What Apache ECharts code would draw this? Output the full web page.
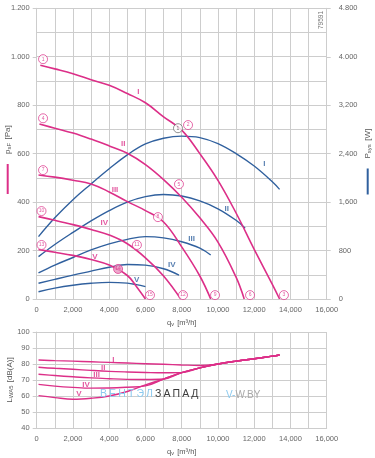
<!DOCTYPE html>
<html><head><meta charset="utf-8">
<script src="https://cdn.jsdelivr.net/npm/echarts@6/dist/echarts.min.js"></script>
<style>html,body{margin:0;padding:0;background:#fff}#c{width:375px;height:458px}</style>
</head><body><div id="c"></div>
<script>
// ---------- tick labels ----------
const xTickLabels = ['0','2,000','4,000','6,000','8,000','10,000','12,000','14,000','16,000'];
const pressTickLabels = ['0','200','400','600','800','1.000','1.200'];
const powerTickLabels = ['0','800','1,600','2,400','3,200','4.000','4.800'];
const noiseTickLabels = ['40','50','60','70','80','90','100'];
const curveNames = ['I','II','III','IV','V'];

// ---------- pressure curves p_sF [Pa] ----------
const flowPI   = [200,1000,2000,3000,4000,5000,6000,7000,8000,9000,10000,11000,12000,13000,13400];
const pressI   = [965,950,930,905,882,848,810,752,697,600,490,355,205,60,0];
const flowPII  = [150,1000,2000,3000,4000,5000,6000,7000,8000,9000,10000,11000,11450];
const pressII  = [722,705,685,660,632,602,555,493,420,335,235,90,0];
const flowPIII = [100,1000,2000,3000,4000,5000,6000,7000,8000,9000,9600];
const pressIII = [512,503,490,475,442,402,365,318,215,95,0];
const flowPIV  = [100,1000,2000,3000,4000,5000,6000,7000,7950];
const pressIV  = [340,325,307,287,264,228,170,95,0];
const flowPV   = [100,1000,2000,3000,4000,5000,5500,6000];
const pressV   = [204,193,180,163,140,97,52,0];

// ---------- power curves P_sys [W] ----------
const flowWI   = [100,1000,2000,3000,4000,5000,6000,7000,8000,9000,10000,11000,12000,13000,13400];
const powerI   = [1030,1340,1640,1900,2150,2380,2560,2655,2690,2665,2565,2400,2195,1935,1810];
const flowWII  = [100,1000,2000,3000,4000,5000,6000,7000,8000,9000,10000,11000,11500];
const powerII  = [700,900,1100,1290,1460,1600,1690,1725,1700,1620,1490,1300,1170];
const flowWIII = [100,1000,2000,3000,4000,5000,6000,7000,8000,9000,9600];
const powerIII = [430,560,685,810,910,985,1030,1010,945,840,726];
const flowWIV  = [100,1000,2000,3000,4000,5000,6000,7000,7850];
const powerIV  = [260,325,395,460,525,570,560,500,396];
const flowWV   = [100,1000,2000,3000,4000,5000,5500,6000];
const powerV   = [120,180,228,260,275,262,238,205];

// ---------- noise curves L_WA5 [dB(A)] ----------
const flowN  = [100,1000,2000,3000,4000,5000,6000,7000,8000,9000,10000,11000,12000,13000,13400];
const noiseI   = [82.5,82.1,81.8,81.4,81.0,80.6,80.2,79.8,79.4,79.1,80.0,81.8,83.3,84.9,85.6];
const noiseII  = [78.0,77.3,76.7,76.0,75.4,75.0,74.7,74.5,74.6,77.6,80.0,81.8,83.3,84.9,85.6];
const noiseIII = [73.6,72.8,72.0,71.3,70.8,70.4,70.3,70.6,74.6,77.6,80.0,81.8,83.3,84.9,85.6];
const noiseIV  = [67.3,66.2,65.4,64.9,65.0,65.5,66.3,70.6,74.6,77.6,80.0,81.8,83.3,84.9,85.6];
const noiseV   = [60.2,59.0,58.0,58.6,60.0,62.8,67.0,70.6,74.6,77.6,80.0,81.8,83.3,84.9,85.6];

// ---------- annotations ----------
const markerFlow  = [350,350,350,265,265,8350,7850,6690,5530,4490,13640,11770,9840,8070,6250];
const markerPress = [990,746,532,363,223,718,474,338,223,124,16,16,16,16,16];
const markerText  = ['1','4','7','10','13','2','5','8','11','14','3','6','9','12','15'];
const greyMarkerFlow = [7795], greyMarkerPress = [705], greyMarkerText = ['1'];
const pLabelFlow  = [5606,4778,4320,3730,3217];
const pLabelPress = [855,642,452,315,175];
const wLabelFlow  = [12557,10483,8552,7448,5517];
const wLabelPower = [2239,1496,1001,561,313];
const nLabelFlow  = [4226,3675,3310,2720,2333];
const nLabelNoise = [82.9,77.9,73.1,67.3,61.1];

// ---------- styling ----------
const PINK = '#dc2f88', BLUE = '#30609e', GRID = '#cdcdcd', TXT = '#666';
const FONT = 'Liberation Sans, Arial, sans-serif';
const zip = (xs, ys) => xs.map((x, i) => [x, ys[i]]);

const labelStyle = { fontSize: 7.5, color: TXT, fontFamily: FONT };
function xAxis(grid, nameGap) {
  return {
    gridIndex: grid, type: 'value', min: 0, max: 16000, interval: 2000,
    axisLine: { show: true, lineStyle: { color: GRID } },
    axisTick: { show: false },
    splitLine: { show: true, lineStyle: { color: GRID, width: 1 } },
    minorTick: { show: false, splitNumber: 2 },
    minorSplitLine: { show: true, lineStyle: { color: GRID, width: 1 } },
    axisLabel: Object.assign({ margin: 7, formatter: v => xTickLabels[Math.round(v / 2000)] }, labelStyle),
    name: '{t|q}{s|v} {t|[m³/h]}', nameLocation: 'middle', nameGap: nameGap, nameMoveOverlap: false,
    nameTextStyle: { rich: {
      t: { fontSize: 7.5, color: '#555', fontFamily: FONT, lineHeight: 10 },
      s: { fontSize: 5.5, color: '#555', fontFamily: FONT, lineHeight: 10, padding: [3, 0, 0, 0] } } }
  };
}
const nameRich = {
  t: { fontSize: 8, color: '#555', fontFamily: FONT, lineHeight: 10 },
  s: { fontSize: 6, color: '#555', fontFamily: FONT, lineHeight: 10, padding: [3, 0, 0, 0] },
  lp: { width: 30, height: 2, backgroundColor: PINK },
  lb: { width: 26, height: 2, backgroundColor: BLUE }
};

const series = [];
const pFlows = [flowPI, flowPII, flowPIII, flowPIV, flowPV];
const pVals  = [pressI, pressII, pressIII, pressIV, pressV];
const wFlows = [flowWI, flowWII, flowWIII, flowWIV, flowWV];
const wVals  = [powerI, powerII, powerIII, powerIV, powerV];
const nVals  = [noiseI, noiseII, noiseIII, noiseIV, noiseV];
for (let i = 0; i < 5; i++) {
  series.push({ type: 'line', xAxisIndex: 0, yAxisIndex: 1, data: zip(wFlows[i], wVals[i]), smooth: 0.4, showSymbol: false,
    lineStyle: { color: BLUE, width: 1.4 }, z: 2, silent: true });
}
for (let i = 0; i < 5; i++) {
  series.push({ type: 'line', xAxisIndex: 0, yAxisIndex: 0, data: zip(pFlows[i], pVals[i]), smooth: 0.4, showSymbol: false,
    lineStyle: { color: PINK, width: 1.6 }, z: 3, silent: true });
}
for (let i = 0; i < 5; i++) {
  series.push({ type: 'line', xAxisIndex: 1, yAxisIndex: 2, data: zip(flowN, nVals[i]), smooth: 0.4, showSymbol: false,
    lineStyle: { color: PINK, width: 1.4 }, z: 3, silent: true });
}
// roman labels
function romanSeries(xi, yi, xs, ys, color) {
  return { type: 'scatter', xAxisIndex: xi, yAxisIndex: yi, symbolSize: 0, z: 6, silent: true,
    data: xs.map((x, i) => [x, ys[i], curveNames[i]]),
    label: { show: true, position: 'inside', formatter: p => p.data[2], fontSize: 8, fontWeight: 'bold', color: color, fontFamily: FONT } };
}
series.push(romanSeries(0, 0, pLabelFlow, pLabelPress, PINK));
series.push(romanSeries(0, 1, wLabelFlow, wLabelPower, BLUE));
series.push(romanSeries(1, 2, nLabelFlow, nLabelNoise, PINK));
// circled point markers
series.push({ type: 'scatter', xAxisIndex: 0, yAxisIndex: 0, symbol: 'circle', symbolSize: 9, z: 7, silent: true,
  data: markerFlow.map((x, i) => ({ value: [x, markerPress[i], markerText[i]],
    itemStyle: markerText[i] === '14' ? { color: '#e995c0', borderColor: PINK, borderWidth: 0.9 } : undefined })),
  itemStyle: { color: '#fff', borderColor: PINK, borderWidth: 0.9 },
  label: { show: true, position: 'inside', formatter: p => p.value[2], fontSize: 5, color: PINK, fontFamily: FONT } });
series.push({ type: 'scatter', xAxisIndex: 0, yAxisIndex: 0, symbol: 'circle', symbolSize: 9, z: 7, silent: true,
  data: greyMarkerFlow.map((x, i) => [x, greyMarkerPress[i], greyMarkerText[i]]),
  itemStyle: { color: '#fff', borderColor: '#666', borderWidth: 0.9 },
  label: { show: true, position: 'inside', formatter: p => p.data[2], fontSize: 5, color: '#555', fontFamily: FONT } });

const option = {
  animation: false,
  backgroundColor: '#fff',
  grid: [
    { left: 36.7, top: 8.3, width: 290, height: 290.7, outerBoundsMode: 'none', containLabel: false },
    { left: 36.7, top: 332, width: 290, height: 96, outerBoundsMode: 'none', containLabel: false }
  ],
  xAxis: [xAxis(0, 18), xAxis(1, 18)],
  yAxis: [
    { gridIndex: 0, type: 'value', min: 0, max: 1200, interval: 200, position: 'left',
      axisLine: { show: true, lineStyle: { color: GRID } },
      axisTick: { show: true, length: 4, lineStyle: { color: GRID } },
      splitLine: { show: true, lineStyle: { color: GRID } },
      minorTick: { show: false, splitNumber: 2 },
      minorSplitLine: { show: true, lineStyle: { color: GRID } },
      axisLabel: Object.assign({ margin: 7, formatter: v => pressTickLabels[Math.round(v / 200)] }, labelStyle),
      name: '{lp|\u00a0}   {t|p}{s|sF} {t|[Pa]}', nameLocation: 'middle', nameGap: 23, nameRotate: 90, nameMoveOverlap: false,
      nameTextStyle: { rich: nameRich, padding: [0, 12, 0, 0] } },
    { gridIndex: 0, type: 'value', min: 0, max: 4800, interval: 800, position: 'right',
      axisLine: { show: true, lineStyle: { color: GRID } },
      axisTick: { show: true, length: 4, lineStyle: { color: GRID } },
      splitLine: { show: false },
      axisLabel: Object.assign({ margin: 12, formatter: v => powerTickLabels[Math.round(v / 800)] }, labelStyle),
      name: '{lb|\u00a0}   {t|P}{s|sys} {t|[W]}', nameLocation: 'middle', nameGap: 35, nameRotate: 90, nameMoveOverlap: false,
      nameTextStyle: { rich: nameRich, padding: [0, 16, 0, 0] } },
    { gridIndex: 1, type: 'value', min: 40, max: 100, interval: 10, position: 'left',
      axisLine: { show: true, lineStyle: { color: GRID } },
      axisTick: { show: true, length: 4, lineStyle: { color: GRID } },
      splitLine: { show: true, lineStyle: { color: GRID } },
      axisLabel: Object.assign({ margin: 7, formatter: v => noiseTickLabels[Math.round((v - 40) / 10)] }, labelStyle),
      name: '{t|L}{s|WA5} {t|[dB(A)]}', nameLocation: 'middle', nameGap: 21, nameRotate: 90, nameMoveOverlap: false,
      nameTextStyle: { rich: nameRich } }
  ],
  graphic: [
    { type: 'text', x: 318, y: 29, rotation: Math.PI / 2, silent: true,
      style: { text: '79591', fontSize: 6.5, fill: '#777', fontFamily: FONT } },
    { type: 'text', left: 100, top: 389, silent: true, z: 10,
      style: { text: '{a|В\u2009Е\u2009Н\u2009Т\u2009Э\u2009Л\u2009}{b|З\u2009А\u2009П\u2009А\u2009Д}',
        rich: { a: { fill: '#8ccaef', fontSize: 10.5, fontFamily: FONT }, b: { fill: '#3a3a3a', fontSize: 10.5, fontFamily: FONT } } } },
    { type: 'text', left: 226, top: 390, silent: true, z: 10,
      style: { text: '{a|V-}{b|W.BY}',
        rich: { a: { fill: '#8ccaef', fontSize: 10, fontFamily: FONT }, b: { fill: '#a8a8a8', fontSize: 10, fontFamily: FONT } } } }
  ],
  series: series
};
const chart = echarts.init(document.getElementById('c'), null, { renderer: 'canvas' });
chart.setOption(option);
</script></body></html>
